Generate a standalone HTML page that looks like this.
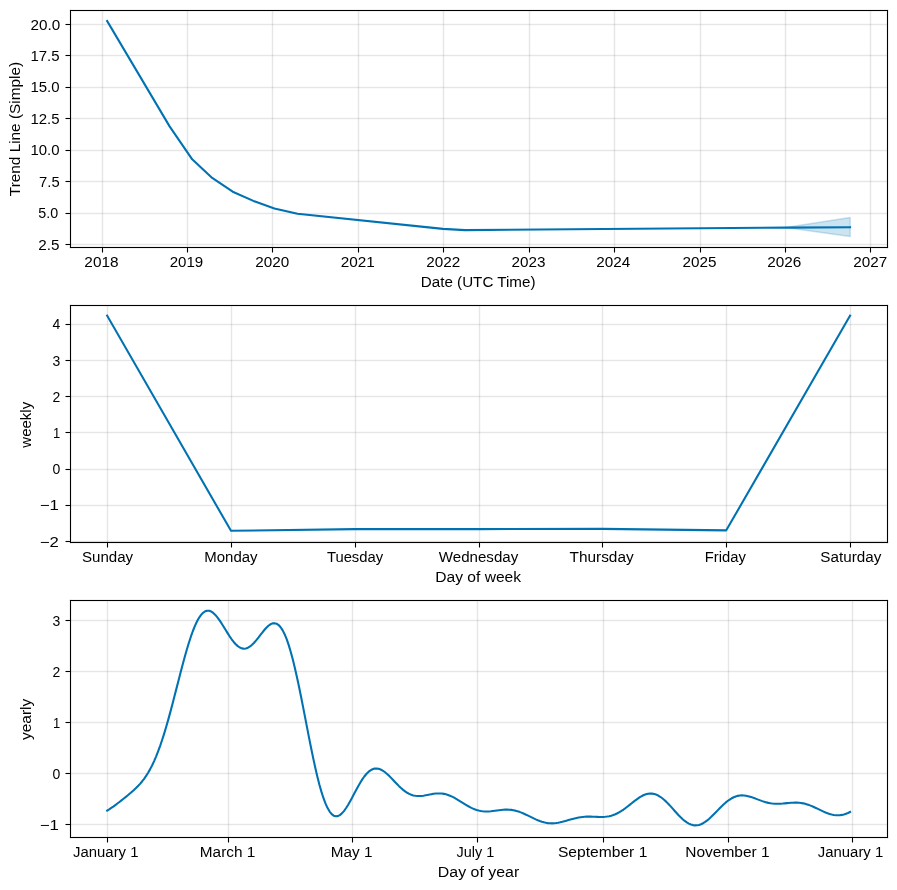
<!DOCTYPE html>
<html><head><meta charset="utf-8"><title>Prophet components</title><style>html,body{margin:0;padding:0;background:#fff;width:897px;height:890px;overflow:hidden}svg{display:block;will-change:transform}text{font-family:"Liberation Sans",sans-serif;fill:#000}</style></head><body>
<svg width="897" height="890" viewBox="0 0 897 890">
<rect width="897" height="890" fill="#fff"/>
<rect x="102" y="11" width="1" height="236" fill="#808080" fill-opacity="0.2"/>
<rect x="101" y="11" width="1" height="236" fill="#808080" fill-opacity="0.04"/>
<rect x="103" y="11" width="1" height="236" fill="#808080" fill-opacity="0.04"/>
<rect x="187" y="11" width="1" height="236" fill="#808080" fill-opacity="0.2"/>
<rect x="186" y="11" width="1" height="236" fill="#808080" fill-opacity="0.04"/>
<rect x="188" y="11" width="1" height="236" fill="#808080" fill-opacity="0.04"/>
<rect x="272" y="11" width="1" height="236" fill="#808080" fill-opacity="0.2"/>
<rect x="271" y="11" width="1" height="236" fill="#808080" fill-opacity="0.04"/>
<rect x="273" y="11" width="1" height="236" fill="#808080" fill-opacity="0.04"/>
<rect x="358" y="11" width="1" height="236" fill="#808080" fill-opacity="0.2"/>
<rect x="357" y="11" width="1" height="236" fill="#808080" fill-opacity="0.04"/>
<rect x="359" y="11" width="1" height="236" fill="#808080" fill-opacity="0.04"/>
<rect x="443" y="11" width="1" height="236" fill="#808080" fill-opacity="0.2"/>
<rect x="442" y="11" width="1" height="236" fill="#808080" fill-opacity="0.04"/>
<rect x="444" y="11" width="1" height="236" fill="#808080" fill-opacity="0.04"/>
<rect x="529" y="11" width="1" height="236" fill="#808080" fill-opacity="0.2"/>
<rect x="528" y="11" width="1" height="236" fill="#808080" fill-opacity="0.04"/>
<rect x="530" y="11" width="1" height="236" fill="#808080" fill-opacity="0.04"/>
<rect x="614" y="11" width="1" height="236" fill="#808080" fill-opacity="0.2"/>
<rect x="613" y="11" width="1" height="236" fill="#808080" fill-opacity="0.04"/>
<rect x="615" y="11" width="1" height="236" fill="#808080" fill-opacity="0.04"/>
<rect x="700" y="11" width="1" height="236" fill="#808080" fill-opacity="0.2"/>
<rect x="699" y="11" width="1" height="236" fill="#808080" fill-opacity="0.04"/>
<rect x="701" y="11" width="1" height="236" fill="#808080" fill-opacity="0.04"/>
<rect x="785" y="11" width="1" height="236" fill="#808080" fill-opacity="0.2"/>
<rect x="784" y="11" width="1" height="236" fill="#808080" fill-opacity="0.04"/>
<rect x="786" y="11" width="1" height="236" fill="#808080" fill-opacity="0.04"/>
<rect x="870" y="11" width="1" height="236" fill="#808080" fill-opacity="0.2"/>
<rect x="869" y="11" width="1" height="236" fill="#808080" fill-opacity="0.04"/>
<rect x="871" y="11" width="1" height="236" fill="#808080" fill-opacity="0.04"/>
<rect x="71" y="24" width="816" height="1" fill="#808080" fill-opacity="0.2"/>
<rect x="71" y="23" width="816" height="1" fill="#808080" fill-opacity="0.04"/>
<rect x="71" y="25" width="816" height="1" fill="#808080" fill-opacity="0.04"/>
<rect x="71" y="55" width="816" height="1" fill="#808080" fill-opacity="0.2"/>
<rect x="71" y="54" width="816" height="1" fill="#808080" fill-opacity="0.04"/>
<rect x="71" y="56" width="816" height="1" fill="#808080" fill-opacity="0.04"/>
<rect x="71" y="87" width="816" height="1" fill="#808080" fill-opacity="0.2"/>
<rect x="71" y="86" width="816" height="1" fill="#808080" fill-opacity="0.04"/>
<rect x="71" y="88" width="816" height="1" fill="#808080" fill-opacity="0.04"/>
<rect x="71" y="118" width="816" height="1" fill="#808080" fill-opacity="0.2"/>
<rect x="71" y="117" width="816" height="1" fill="#808080" fill-opacity="0.04"/>
<rect x="71" y="119" width="816" height="1" fill="#808080" fill-opacity="0.04"/>
<rect x="71" y="150" width="816" height="1" fill="#808080" fill-opacity="0.2"/>
<rect x="71" y="149" width="816" height="1" fill="#808080" fill-opacity="0.04"/>
<rect x="71" y="151" width="816" height="1" fill="#808080" fill-opacity="0.04"/>
<rect x="71" y="181" width="816" height="1" fill="#808080" fill-opacity="0.2"/>
<rect x="71" y="180" width="816" height="1" fill="#808080" fill-opacity="0.04"/>
<rect x="71" y="182" width="816" height="1" fill="#808080" fill-opacity="0.04"/>
<rect x="71" y="213" width="816" height="1" fill="#808080" fill-opacity="0.2"/>
<rect x="71" y="212" width="816" height="1" fill="#808080" fill-opacity="0.04"/>
<rect x="71" y="214" width="816" height="1" fill="#808080" fill-opacity="0.04"/>
<rect x="71" y="244" width="816" height="1" fill="#808080" fill-opacity="0.2"/>
<rect x="71" y="243" width="816" height="1" fill="#808080" fill-opacity="0.04"/>
<rect x="71" y="245" width="816" height="1" fill="#808080" fill-opacity="0.04"/>
<polygon points="785.40,227.55 850.20,217.55 850.20,236.45" fill="#0072B2" fill-opacity="0.2" stroke="#0072B2" stroke-opacity="0.2" stroke-width="1.39" stroke-linejoin="round"/>
<polyline points="107.17,21.00 169.60,126.40 192.20,159.30 212.20,177.90 232.70,191.70 253.40,200.90 274.40,208.40 297.50,213.80 443.00,228.90 465.00,230.10 785.50,227.60 850.07,227.30" fill="none" stroke="#0072B2" stroke-width="2.08" stroke-linecap="square" stroke-linejoin="round"/>
<rect x="70" y="10" width="818" height="1" fill="#000"/>
<rect x="71" y="9" width="816" height="1" fill="#000" fill-opacity="0.055"/>
<rect x="71" y="11" width="816" height="1" fill="#000" fill-opacity="0.055"/>
<rect x="70" y="247" width="818" height="1" fill="#000"/>
<rect x="71" y="246" width="816" height="1" fill="#000" fill-opacity="0.055"/>
<rect x="71" y="248" width="816" height="1" fill="#000" fill-opacity="0.055"/>
<rect x="70" y="11" width="1" height="236" fill="#000"/>
<rect x="69" y="12" width="1" height="234" fill="#000" fill-opacity="0.055"/>
<rect x="71" y="12" width="1" height="234" fill="#000" fill-opacity="0.055"/>
<rect x="887" y="11" width="1" height="236" fill="#000"/>
<rect x="886" y="12" width="1" height="234" fill="#000" fill-opacity="0.055"/>
<rect x="888" y="12" width="1" height="234" fill="#000" fill-opacity="0.055"/>
<rect x="69" y="10" width="1" height="1" fill="#e3e3e3"/>
<rect x="70" y="9" width="1" height="1" fill="#e3e3e3"/>
<rect x="69" y="9" width="1" height="1" fill="#fdfdfd"/>
<rect x="69" y="11" width="1" height="1" fill="#f0f0f0"/>
<rect x="71" y="9" width="1" height="1" fill="#f0f0f0"/>
<rect x="69" y="247" width="1" height="1" fill="#e3e3e3"/>
<rect x="70" y="248" width="1" height="1" fill="#e3e3e3"/>
<rect x="69" y="248" width="1" height="1" fill="#fdfdfd"/>
<rect x="69" y="246" width="1" height="1" fill="#f0f0f0"/>
<rect x="71" y="248" width="1" height="1" fill="#f0f0f0"/>
<rect x="888" y="10" width="1" height="1" fill="#e3e3e3"/>
<rect x="887" y="9" width="1" height="1" fill="#e3e3e3"/>
<rect x="888" y="9" width="1" height="1" fill="#fdfdfd"/>
<rect x="888" y="11" width="1" height="1" fill="#f0f0f0"/>
<rect x="886" y="9" width="1" height="1" fill="#f0f0f0"/>
<rect x="888" y="247" width="1" height="1" fill="#e3e3e3"/>
<rect x="887" y="248" width="1" height="1" fill="#e3e3e3"/>
<rect x="888" y="248" width="1" height="1" fill="#fdfdfd"/>
<rect x="888" y="246" width="1" height="1" fill="#f0f0f0"/>
<rect x="886" y="248" width="1" height="1" fill="#f0f0f0"/>
<rect x="102" y="248" width="1" height="4" fill="#000"/>
<rect x="101" y="249" width="1" height="3" fill="#f1f1f1"/>
<rect x="103" y="249" width="1" height="3" fill="#f1f1f1"/>
<rect x="102" y="252" width="1" height="1" fill="#7f7f7f"/>
<rect x="187" y="248" width="1" height="4" fill="#000"/>
<rect x="186" y="249" width="1" height="3" fill="#f1f1f1"/>
<rect x="188" y="249" width="1" height="3" fill="#f1f1f1"/>
<rect x="187" y="252" width="1" height="1" fill="#7f7f7f"/>
<rect x="272" y="248" width="1" height="4" fill="#000"/>
<rect x="271" y="249" width="1" height="3" fill="#f1f1f1"/>
<rect x="273" y="249" width="1" height="3" fill="#f1f1f1"/>
<rect x="272" y="252" width="1" height="1" fill="#7f7f7f"/>
<rect x="358" y="248" width="1" height="4" fill="#000"/>
<rect x="357" y="249" width="1" height="3" fill="#f1f1f1"/>
<rect x="359" y="249" width="1" height="3" fill="#f1f1f1"/>
<rect x="358" y="252" width="1" height="1" fill="#7f7f7f"/>
<rect x="443" y="248" width="1" height="4" fill="#000"/>
<rect x="442" y="249" width="1" height="3" fill="#f1f1f1"/>
<rect x="444" y="249" width="1" height="3" fill="#f1f1f1"/>
<rect x="443" y="252" width="1" height="1" fill="#7f7f7f"/>
<rect x="529" y="248" width="1" height="4" fill="#000"/>
<rect x="528" y="249" width="1" height="3" fill="#f1f1f1"/>
<rect x="530" y="249" width="1" height="3" fill="#f1f1f1"/>
<rect x="529" y="252" width="1" height="1" fill="#7f7f7f"/>
<rect x="614" y="248" width="1" height="4" fill="#000"/>
<rect x="613" y="249" width="1" height="3" fill="#f1f1f1"/>
<rect x="615" y="249" width="1" height="3" fill="#f1f1f1"/>
<rect x="614" y="252" width="1" height="1" fill="#7f7f7f"/>
<rect x="700" y="248" width="1" height="4" fill="#000"/>
<rect x="699" y="249" width="1" height="3" fill="#f1f1f1"/>
<rect x="701" y="249" width="1" height="3" fill="#f1f1f1"/>
<rect x="700" y="252" width="1" height="1" fill="#7f7f7f"/>
<rect x="785" y="248" width="1" height="4" fill="#000"/>
<rect x="784" y="249" width="1" height="3" fill="#f1f1f1"/>
<rect x="786" y="249" width="1" height="3" fill="#f1f1f1"/>
<rect x="785" y="252" width="1" height="1" fill="#7f7f7f"/>
<rect x="870" y="248" width="1" height="4" fill="#000"/>
<rect x="869" y="249" width="1" height="3" fill="#f1f1f1"/>
<rect x="871" y="249" width="1" height="3" fill="#f1f1f1"/>
<rect x="870" y="252" width="1" height="1" fill="#7f7f7f"/>
<rect x="66" y="24" width="4" height="1" fill="#000"/>
<rect x="66" y="23" width="3" height="1" fill="#f1f1f1"/>
<rect x="66" y="25" width="3" height="1" fill="#f1f1f1"/>
<rect x="65" y="24" width="1" height="1" fill="#7f7f7f"/>
<rect x="66" y="55" width="4" height="1" fill="#000"/>
<rect x="66" y="54" width="3" height="1" fill="#f1f1f1"/>
<rect x="66" y="56" width="3" height="1" fill="#f1f1f1"/>
<rect x="65" y="55" width="1" height="1" fill="#7f7f7f"/>
<rect x="66" y="87" width="4" height="1" fill="#000"/>
<rect x="66" y="86" width="3" height="1" fill="#f1f1f1"/>
<rect x="66" y="88" width="3" height="1" fill="#f1f1f1"/>
<rect x="65" y="87" width="1" height="1" fill="#7f7f7f"/>
<rect x="66" y="118" width="4" height="1" fill="#000"/>
<rect x="66" y="117" width="3" height="1" fill="#f1f1f1"/>
<rect x="66" y="119" width="3" height="1" fill="#f1f1f1"/>
<rect x="65" y="118" width="1" height="1" fill="#7f7f7f"/>
<rect x="66" y="150" width="4" height="1" fill="#000"/>
<rect x="66" y="149" width="3" height="1" fill="#f1f1f1"/>
<rect x="66" y="151" width="3" height="1" fill="#f1f1f1"/>
<rect x="65" y="150" width="1" height="1" fill="#7f7f7f"/>
<rect x="66" y="181" width="4" height="1" fill="#000"/>
<rect x="66" y="180" width="3" height="1" fill="#f1f1f1"/>
<rect x="66" y="182" width="3" height="1" fill="#f1f1f1"/>
<rect x="65" y="181" width="1" height="1" fill="#7f7f7f"/>
<rect x="66" y="213" width="4" height="1" fill="#000"/>
<rect x="66" y="212" width="3" height="1" fill="#f1f1f1"/>
<rect x="66" y="214" width="3" height="1" fill="#f1f1f1"/>
<rect x="65" y="213" width="1" height="1" fill="#7f7f7f"/>
<rect x="66" y="244" width="4" height="1" fill="#000"/>
<rect x="66" y="243" width="3" height="1" fill="#f1f1f1"/>
<rect x="66" y="245" width="3" height="1" fill="#f1f1f1"/>
<rect x="65" y="244" width="1" height="1" fill="#7f7f7f"/>
<rect x="107" y="306" width="1" height="236" fill="#808080" fill-opacity="0.2"/>
<rect x="106" y="306" width="1" height="236" fill="#808080" fill-opacity="0.04"/>
<rect x="108" y="306" width="1" height="236" fill="#808080" fill-opacity="0.04"/>
<rect x="231" y="306" width="1" height="236" fill="#808080" fill-opacity="0.2"/>
<rect x="230" y="306" width="1" height="236" fill="#808080" fill-opacity="0.04"/>
<rect x="232" y="306" width="1" height="236" fill="#808080" fill-opacity="0.04"/>
<rect x="355" y="306" width="1" height="236" fill="#808080" fill-opacity="0.2"/>
<rect x="354" y="306" width="1" height="236" fill="#808080" fill-opacity="0.04"/>
<rect x="356" y="306" width="1" height="236" fill="#808080" fill-opacity="0.04"/>
<rect x="479" y="306" width="1" height="236" fill="#808080" fill-opacity="0.2"/>
<rect x="478" y="306" width="1" height="236" fill="#808080" fill-opacity="0.04"/>
<rect x="480" y="306" width="1" height="236" fill="#808080" fill-opacity="0.04"/>
<rect x="602" y="306" width="1" height="236" fill="#808080" fill-opacity="0.2"/>
<rect x="601" y="306" width="1" height="236" fill="#808080" fill-opacity="0.04"/>
<rect x="603" y="306" width="1" height="236" fill="#808080" fill-opacity="0.04"/>
<rect x="726" y="306" width="1" height="236" fill="#808080" fill-opacity="0.2"/>
<rect x="725" y="306" width="1" height="236" fill="#808080" fill-opacity="0.04"/>
<rect x="727" y="306" width="1" height="236" fill="#808080" fill-opacity="0.04"/>
<rect x="850" y="306" width="1" height="236" fill="#808080" fill-opacity="0.2"/>
<rect x="849" y="306" width="1" height="236" fill="#808080" fill-opacity="0.04"/>
<rect x="851" y="306" width="1" height="236" fill="#808080" fill-opacity="0.04"/>
<rect x="71" y="324" width="816" height="1" fill="#808080" fill-opacity="0.2"/>
<rect x="71" y="323" width="816" height="1" fill="#808080" fill-opacity="0.04"/>
<rect x="71" y="325" width="816" height="1" fill="#808080" fill-opacity="0.04"/>
<rect x="71" y="360" width="816" height="1" fill="#808080" fill-opacity="0.2"/>
<rect x="71" y="359" width="816" height="1" fill="#808080" fill-opacity="0.04"/>
<rect x="71" y="361" width="816" height="1" fill="#808080" fill-opacity="0.04"/>
<rect x="71" y="396" width="816" height="1" fill="#808080" fill-opacity="0.2"/>
<rect x="71" y="395" width="816" height="1" fill="#808080" fill-opacity="0.04"/>
<rect x="71" y="397" width="816" height="1" fill="#808080" fill-opacity="0.04"/>
<rect x="71" y="432" width="816" height="1" fill="#808080" fill-opacity="0.2"/>
<rect x="71" y="431" width="816" height="1" fill="#808080" fill-opacity="0.04"/>
<rect x="71" y="433" width="816" height="1" fill="#808080" fill-opacity="0.04"/>
<rect x="71" y="469" width="816" height="1" fill="#808080" fill-opacity="0.2"/>
<rect x="71" y="468" width="816" height="1" fill="#808080" fill-opacity="0.04"/>
<rect x="71" y="470" width="816" height="1" fill="#808080" fill-opacity="0.04"/>
<rect x="71" y="505" width="816" height="1" fill="#808080" fill-opacity="0.2"/>
<rect x="71" y="504" width="816" height="1" fill="#808080" fill-opacity="0.04"/>
<rect x="71" y="506" width="816" height="1" fill="#808080" fill-opacity="0.04"/>
<rect x="71" y="541" width="816" height="1" fill="#808080" fill-opacity="0.2"/>
<rect x="71" y="540" width="816" height="1" fill="#808080" fill-opacity="0.04"/>
<rect x="71" y="542" width="816" height="1" fill="#808080" fill-opacity="0.04"/>
<polyline points="107.17,315.75 230.99,530.80 354.80,529.15 478.62,529.15 602.43,528.85 726.25,530.35 850.06,315.75" fill="none" stroke="#0072B2" stroke-width="2.08" stroke-linecap="square" stroke-linejoin="round"/>
<rect x="70" y="305" width="818" height="1" fill="#000"/>
<rect x="71" y="304" width="816" height="1" fill="#000" fill-opacity="0.055"/>
<rect x="71" y="306" width="816" height="1" fill="#000" fill-opacity="0.055"/>
<rect x="70" y="542" width="818" height="1" fill="#000"/>
<rect x="71" y="541" width="816" height="1" fill="#000" fill-opacity="0.055"/>
<rect x="71" y="543" width="816" height="1" fill="#000" fill-opacity="0.055"/>
<rect x="70" y="306" width="1" height="236" fill="#000"/>
<rect x="69" y="307" width="1" height="234" fill="#000" fill-opacity="0.055"/>
<rect x="71" y="307" width="1" height="234" fill="#000" fill-opacity="0.055"/>
<rect x="887" y="306" width="1" height="236" fill="#000"/>
<rect x="886" y="307" width="1" height="234" fill="#000" fill-opacity="0.055"/>
<rect x="888" y="307" width="1" height="234" fill="#000" fill-opacity="0.055"/>
<rect x="69" y="305" width="1" height="1" fill="#e3e3e3"/>
<rect x="70" y="304" width="1" height="1" fill="#e3e3e3"/>
<rect x="69" y="304" width="1" height="1" fill="#fdfdfd"/>
<rect x="69" y="306" width="1" height="1" fill="#f0f0f0"/>
<rect x="71" y="304" width="1" height="1" fill="#f0f0f0"/>
<rect x="69" y="542" width="1" height="1" fill="#e3e3e3"/>
<rect x="70" y="543" width="1" height="1" fill="#e3e3e3"/>
<rect x="69" y="543" width="1" height="1" fill="#fdfdfd"/>
<rect x="69" y="541" width="1" height="1" fill="#f0f0f0"/>
<rect x="71" y="543" width="1" height="1" fill="#f0f0f0"/>
<rect x="888" y="305" width="1" height="1" fill="#e3e3e3"/>
<rect x="887" y="304" width="1" height="1" fill="#e3e3e3"/>
<rect x="888" y="304" width="1" height="1" fill="#fdfdfd"/>
<rect x="888" y="306" width="1" height="1" fill="#f0f0f0"/>
<rect x="886" y="304" width="1" height="1" fill="#f0f0f0"/>
<rect x="888" y="542" width="1" height="1" fill="#e3e3e3"/>
<rect x="887" y="543" width="1" height="1" fill="#e3e3e3"/>
<rect x="888" y="543" width="1" height="1" fill="#fdfdfd"/>
<rect x="888" y="541" width="1" height="1" fill="#f0f0f0"/>
<rect x="886" y="543" width="1" height="1" fill="#f0f0f0"/>
<rect x="107" y="543" width="1" height="4" fill="#000"/>
<rect x="106" y="544" width="1" height="3" fill="#f1f1f1"/>
<rect x="108" y="544" width="1" height="3" fill="#f1f1f1"/>
<rect x="107" y="547" width="1" height="1" fill="#7f7f7f"/>
<rect x="231" y="543" width="1" height="4" fill="#000"/>
<rect x="230" y="544" width="1" height="3" fill="#f1f1f1"/>
<rect x="232" y="544" width="1" height="3" fill="#f1f1f1"/>
<rect x="231" y="547" width="1" height="1" fill="#7f7f7f"/>
<rect x="355" y="543" width="1" height="4" fill="#000"/>
<rect x="354" y="544" width="1" height="3" fill="#f1f1f1"/>
<rect x="356" y="544" width="1" height="3" fill="#f1f1f1"/>
<rect x="355" y="547" width="1" height="1" fill="#7f7f7f"/>
<rect x="479" y="543" width="1" height="4" fill="#000"/>
<rect x="478" y="544" width="1" height="3" fill="#f1f1f1"/>
<rect x="480" y="544" width="1" height="3" fill="#f1f1f1"/>
<rect x="479" y="547" width="1" height="1" fill="#7f7f7f"/>
<rect x="602" y="543" width="1" height="4" fill="#000"/>
<rect x="601" y="544" width="1" height="3" fill="#f1f1f1"/>
<rect x="603" y="544" width="1" height="3" fill="#f1f1f1"/>
<rect x="602" y="547" width="1" height="1" fill="#7f7f7f"/>
<rect x="726" y="543" width="1" height="4" fill="#000"/>
<rect x="725" y="544" width="1" height="3" fill="#f1f1f1"/>
<rect x="727" y="544" width="1" height="3" fill="#f1f1f1"/>
<rect x="726" y="547" width="1" height="1" fill="#7f7f7f"/>
<rect x="850" y="543" width="1" height="4" fill="#000"/>
<rect x="849" y="544" width="1" height="3" fill="#f1f1f1"/>
<rect x="851" y="544" width="1" height="3" fill="#f1f1f1"/>
<rect x="850" y="547" width="1" height="1" fill="#7f7f7f"/>
<rect x="66" y="324" width="4" height="1" fill="#000"/>
<rect x="66" y="323" width="3" height="1" fill="#f1f1f1"/>
<rect x="66" y="325" width="3" height="1" fill="#f1f1f1"/>
<rect x="65" y="324" width="1" height="1" fill="#7f7f7f"/>
<rect x="66" y="360" width="4" height="1" fill="#000"/>
<rect x="66" y="359" width="3" height="1" fill="#f1f1f1"/>
<rect x="66" y="361" width="3" height="1" fill="#f1f1f1"/>
<rect x="65" y="360" width="1" height="1" fill="#7f7f7f"/>
<rect x="66" y="396" width="4" height="1" fill="#000"/>
<rect x="66" y="395" width="3" height="1" fill="#f1f1f1"/>
<rect x="66" y="397" width="3" height="1" fill="#f1f1f1"/>
<rect x="65" y="396" width="1" height="1" fill="#7f7f7f"/>
<rect x="66" y="432" width="4" height="1" fill="#000"/>
<rect x="66" y="431" width="3" height="1" fill="#f1f1f1"/>
<rect x="66" y="433" width="3" height="1" fill="#f1f1f1"/>
<rect x="65" y="432" width="1" height="1" fill="#7f7f7f"/>
<rect x="66" y="469" width="4" height="1" fill="#000"/>
<rect x="66" y="468" width="3" height="1" fill="#f1f1f1"/>
<rect x="66" y="470" width="3" height="1" fill="#f1f1f1"/>
<rect x="65" y="469" width="1" height="1" fill="#7f7f7f"/>
<rect x="66" y="505" width="4" height="1" fill="#000"/>
<rect x="66" y="504" width="3" height="1" fill="#f1f1f1"/>
<rect x="66" y="506" width="3" height="1" fill="#f1f1f1"/>
<rect x="65" y="505" width="1" height="1" fill="#7f7f7f"/>
<rect x="66" y="541" width="4" height="1" fill="#000"/>
<rect x="66" y="540" width="3" height="1" fill="#f1f1f1"/>
<rect x="66" y="542" width="3" height="1" fill="#f1f1f1"/>
<rect x="65" y="541" width="1" height="1" fill="#7f7f7f"/>
<rect x="107" y="601" width="1" height="236" fill="#808080" fill-opacity="0.2"/>
<rect x="106" y="601" width="1" height="236" fill="#808080" fill-opacity="0.04"/>
<rect x="108" y="601" width="1" height="236" fill="#808080" fill-opacity="0.04"/>
<rect x="228" y="601" width="1" height="236" fill="#808080" fill-opacity="0.2"/>
<rect x="227" y="601" width="1" height="236" fill="#808080" fill-opacity="0.04"/>
<rect x="229" y="601" width="1" height="236" fill="#808080" fill-opacity="0.04"/>
<rect x="352" y="601" width="1" height="236" fill="#808080" fill-opacity="0.2"/>
<rect x="351" y="601" width="1" height="236" fill="#808080" fill-opacity="0.04"/>
<rect x="353" y="601" width="1" height="236" fill="#808080" fill-opacity="0.04"/>
<rect x="477" y="601" width="1" height="236" fill="#808080" fill-opacity="0.2"/>
<rect x="476" y="601" width="1" height="236" fill="#808080" fill-opacity="0.04"/>
<rect x="478" y="601" width="1" height="236" fill="#808080" fill-opacity="0.04"/>
<rect x="603" y="601" width="1" height="236" fill="#808080" fill-opacity="0.2"/>
<rect x="602" y="601" width="1" height="236" fill="#808080" fill-opacity="0.04"/>
<rect x="604" y="601" width="1" height="236" fill="#808080" fill-opacity="0.04"/>
<rect x="728" y="601" width="1" height="236" fill="#808080" fill-opacity="0.2"/>
<rect x="727" y="601" width="1" height="236" fill="#808080" fill-opacity="0.04"/>
<rect x="729" y="601" width="1" height="236" fill="#808080" fill-opacity="0.04"/>
<rect x="852" y="601" width="1" height="236" fill="#808080" fill-opacity="0.2"/>
<rect x="851" y="601" width="1" height="236" fill="#808080" fill-opacity="0.04"/>
<rect x="853" y="601" width="1" height="236" fill="#808080" fill-opacity="0.04"/>
<rect x="71" y="620" width="816" height="1" fill="#808080" fill-opacity="0.2"/>
<rect x="71" y="619" width="816" height="1" fill="#808080" fill-opacity="0.04"/>
<rect x="71" y="621" width="816" height="1" fill="#808080" fill-opacity="0.04"/>
<rect x="71" y="671" width="816" height="1" fill="#808080" fill-opacity="0.2"/>
<rect x="71" y="670" width="816" height="1" fill="#808080" fill-opacity="0.04"/>
<rect x="71" y="672" width="816" height="1" fill="#808080" fill-opacity="0.04"/>
<rect x="71" y="722" width="816" height="1" fill="#808080" fill-opacity="0.2"/>
<rect x="71" y="721" width="816" height="1" fill="#808080" fill-opacity="0.04"/>
<rect x="71" y="723" width="816" height="1" fill="#808080" fill-opacity="0.04"/>
<rect x="71" y="773" width="816" height="1" fill="#808080" fill-opacity="0.2"/>
<rect x="71" y="772" width="816" height="1" fill="#808080" fill-opacity="0.04"/>
<rect x="71" y="774" width="816" height="1" fill="#808080" fill-opacity="0.04"/>
<rect x="71" y="824" width="816" height="1" fill="#808080" fill-opacity="0.2"/>
<rect x="71" y="823" width="816" height="1" fill="#808080" fill-opacity="0.04"/>
<rect x="71" y="825" width="816" height="1" fill="#808080" fill-opacity="0.04"/>
<polyline points="107.17,810.58 109.21,809.33 111.25,807.97 113.29,806.55 115.33,805.06 117.37,803.52 119.42,801.96 121.46,800.37 123.50,798.76 125.54,797.14 127.58,795.49 129.62,793.80 131.66,792.06 133.70,790.26 135.74,788.35 137.78,786.31 139.82,784.12 141.87,781.72 143.91,779.08 145.95,776.18 147.99,772.96 150.03,769.39 152.07,765.46 154.11,761.12 156.15,756.36 158.19,751.18 160.23,745.57 162.27,739.53 164.32,733.09 166.36,726.26 168.40,719.10 170.44,711.64 172.48,703.95 174.52,696.09 176.56,688.13 178.60,680.15 180.64,672.23 182.68,664.47 184.72,656.96 186.77,649.77 188.81,642.99 190.85,636.71 192.89,631.00 194.93,625.91 196.97,621.51 199.01,617.83 201.05,614.91 203.09,612.75 205.13,611.36 207.17,610.73 209.22,610.82 211.26,611.58 213.30,612.97 215.34,614.91 217.38,617.31 219.42,620.10 221.46,623.18 223.50,626.43 225.54,629.77 227.58,633.09 229.62,636.29 231.67,639.27 233.71,641.95 235.75,644.26 237.79,646.13 239.83,647.51 241.87,648.37 243.91,648.69 245.95,648.46 247.99,647.71 250.03,646.47 252.07,644.79 254.12,642.74 256.16,640.39 258.20,637.83 260.24,635.18 262.28,632.53 264.32,630.00 266.36,627.71 268.40,625.77 270.44,624.30 272.48,623.39 274.52,623.16 276.57,623.68 278.61,625.02 280.65,627.24 282.69,630.38 284.73,634.45 286.77,639.46 288.81,645.38 290.85,652.19 292.89,659.82 294.93,668.19 296.97,677.22 299.02,686.80 301.06,696.82 303.10,707.14 305.14,717.64 307.18,728.17 309.22,738.60 311.26,748.79 313.30,758.61 315.34,767.94 317.38,776.66 319.42,784.67 321.47,791.88 323.51,798.22 325.55,803.64 327.59,808.10 329.63,811.60 331.67,814.11 333.71,815.68 335.75,816.33 337.79,816.13 339.83,815.13 341.87,813.42 343.92,811.09 345.96,808.24 348.00,804.97 350.04,801.40 352.08,797.64 354.12,793.78 356.16,789.94 358.20,786.21 360.24,782.68 362.28,779.42 364.32,776.52 366.37,774.01 368.41,771.94 370.45,770.35 372.49,769.24 374.53,768.61 376.57,768.46 378.61,768.76 380.65,769.48 382.69,770.58 384.73,772.00 386.77,773.69 388.82,775.59 390.86,777.64 392.90,779.77 394.94,781.94 396.98,784.08 399.02,786.14 401.06,788.07 403.10,789.84 405.14,791.41 407.18,792.77 409.22,793.89 411.27,794.77 413.31,795.42 415.35,795.84 417.39,796.05 419.43,796.07 421.47,795.94 423.51,795.69 425.55,795.34 427.59,794.95 429.63,794.54 431.67,794.15 433.72,793.81 435.76,793.56 437.80,793.42 439.84,793.42 441.88,793.56 443.92,793.86 445.96,794.32 448.00,794.94 450.04,795.72 452.08,796.63 454.12,797.67 456.17,798.81 458.21,800.02 460.25,801.28 462.29,802.57 464.33,803.84 466.37,805.08 468.41,806.26 470.45,807.35 472.49,808.34 474.53,809.21 476.57,809.94 478.62,810.53 480.66,810.97 482.70,811.27 484.74,811.44 486.78,811.49 488.82,811.42 490.86,811.27 492.90,811.05 494.94,810.79 496.98,810.50 499.02,810.23 501.07,809.98 503.11,809.78 505.15,809.66 507.19,809.63 509.23,809.70 511.27,809.89 513.31,810.20 515.35,810.64 517.39,811.19 519.43,811.86 521.47,812.64 523.52,813.50 525.56,814.43 527.60,815.41 529.64,816.42 531.68,817.44 533.72,818.44 535.76,819.39 537.80,820.28 539.84,821.08 541.88,821.78 543.92,822.36 545.97,822.82 548.01,823.14 550.05,823.32 552.09,823.36 554.13,823.28 556.17,823.06 558.21,822.74 560.25,822.33 562.29,821.83 564.33,821.28 566.37,820.70 568.42,820.09 570.46,819.50 572.50,818.92 574.54,818.39 576.58,817.91 578.62,817.50 580.66,817.17 582.70,816.92 584.74,816.74 586.78,816.65 588.82,816.61 590.87,816.64 592.91,816.70 594.95,816.79 596.99,816.88 599.03,816.94 601.07,816.97 603.11,816.93 605.15,816.80 607.19,816.56 609.23,816.19 611.27,815.69 613.32,815.04 615.36,814.23 617.40,813.27 619.44,812.16 621.48,810.90 623.52,809.52 625.56,808.04 627.60,806.47 629.64,804.86 631.68,803.22 633.72,801.60 635.77,800.04 637.81,798.56 639.85,797.22 641.89,796.03 643.93,795.05 645.97,794.29 648.01,793.79 650.05,793.56 652.09,793.61 654.13,793.96 656.17,794.61 658.22,795.55 660.26,796.77 662.30,798.25 664.34,799.96 666.38,801.87 668.42,803.95 670.46,806.14 672.50,808.41 674.54,810.71 676.58,812.98 678.62,815.19 680.67,817.28 682.71,819.21 684.75,820.93 686.79,822.41 688.83,823.62 690.87,824.53 692.91,825.12 694.95,825.39 696.99,825.32 699.03,824.93 701.07,824.23 703.12,823.23 705.16,821.95 707.20,820.44 709.24,818.72 711.28,816.83 713.32,814.83 715.36,812.74 717.40,810.62 719.44,808.52 721.48,806.47 723.52,804.51 725.57,802.68 727.61,801.02 729.65,799.55 731.69,798.28 733.73,797.24 735.77,796.43 737.81,795.86 739.85,795.52 741.89,795.39 743.93,795.47 745.97,795.73 748.02,796.15 750.06,796.70 752.10,797.36 754.14,798.09 756.18,798.86 758.22,799.64 760.26,800.40 762.30,801.13 764.34,801.79 766.38,802.38 768.42,802.87 770.47,803.25 772.51,803.54 774.55,803.71 776.59,803.79 778.63,803.78 780.67,803.69 782.71,803.55 784.75,803.36 786.79,803.16 788.83,802.96 790.87,802.79 792.92,802.67 794.96,802.61 797.00,802.64 799.04,802.76 801.08,803.00 803.12,803.35 805.16,803.82 807.20,804.40 809.24,805.10 811.28,805.89 813.32,806.76 815.37,807.70 817.41,808.68 819.45,809.67 821.49,810.66 823.53,811.61 825.57,812.51 827.61,813.31 829.65,814.01 831.69,814.57 833.73,814.99 835.77,815.23 837.82,815.31 839.86,815.20 841.90,814.90 843.94,814.43 845.98,813.78 848.02,812.96 850.06,811.99" fill="none" stroke="#0072B2" stroke-width="2.08" stroke-linecap="square" stroke-linejoin="round"/>
<rect x="70" y="600" width="818" height="1" fill="#000"/>
<rect x="71" y="599" width="816" height="1" fill="#000" fill-opacity="0.055"/>
<rect x="71" y="601" width="816" height="1" fill="#000" fill-opacity="0.055"/>
<rect x="70" y="837" width="818" height="1" fill="#000"/>
<rect x="71" y="836" width="816" height="1" fill="#000" fill-opacity="0.055"/>
<rect x="71" y="838" width="816" height="1" fill="#000" fill-opacity="0.055"/>
<rect x="70" y="601" width="1" height="236" fill="#000"/>
<rect x="69" y="602" width="1" height="234" fill="#000" fill-opacity="0.055"/>
<rect x="71" y="602" width="1" height="234" fill="#000" fill-opacity="0.055"/>
<rect x="887" y="601" width="1" height="236" fill="#000"/>
<rect x="886" y="602" width="1" height="234" fill="#000" fill-opacity="0.055"/>
<rect x="888" y="602" width="1" height="234" fill="#000" fill-opacity="0.055"/>
<rect x="69" y="600" width="1" height="1" fill="#e3e3e3"/>
<rect x="70" y="599" width="1" height="1" fill="#e3e3e3"/>
<rect x="69" y="599" width="1" height="1" fill="#fdfdfd"/>
<rect x="69" y="601" width="1" height="1" fill="#f0f0f0"/>
<rect x="71" y="599" width="1" height="1" fill="#f0f0f0"/>
<rect x="69" y="837" width="1" height="1" fill="#e3e3e3"/>
<rect x="70" y="838" width="1" height="1" fill="#e3e3e3"/>
<rect x="69" y="838" width="1" height="1" fill="#fdfdfd"/>
<rect x="69" y="836" width="1" height="1" fill="#f0f0f0"/>
<rect x="71" y="838" width="1" height="1" fill="#f0f0f0"/>
<rect x="888" y="600" width="1" height="1" fill="#e3e3e3"/>
<rect x="887" y="599" width="1" height="1" fill="#e3e3e3"/>
<rect x="888" y="599" width="1" height="1" fill="#fdfdfd"/>
<rect x="888" y="601" width="1" height="1" fill="#f0f0f0"/>
<rect x="886" y="599" width="1" height="1" fill="#f0f0f0"/>
<rect x="888" y="837" width="1" height="1" fill="#e3e3e3"/>
<rect x="887" y="838" width="1" height="1" fill="#e3e3e3"/>
<rect x="888" y="838" width="1" height="1" fill="#fdfdfd"/>
<rect x="888" y="836" width="1" height="1" fill="#f0f0f0"/>
<rect x="886" y="838" width="1" height="1" fill="#f0f0f0"/>
<rect x="107" y="838" width="1" height="4" fill="#000"/>
<rect x="106" y="839" width="1" height="3" fill="#f1f1f1"/>
<rect x="108" y="839" width="1" height="3" fill="#f1f1f1"/>
<rect x="107" y="842" width="1" height="1" fill="#7f7f7f"/>
<rect x="228" y="838" width="1" height="4" fill="#000"/>
<rect x="227" y="839" width="1" height="3" fill="#f1f1f1"/>
<rect x="229" y="839" width="1" height="3" fill="#f1f1f1"/>
<rect x="228" y="842" width="1" height="1" fill="#7f7f7f"/>
<rect x="352" y="838" width="1" height="4" fill="#000"/>
<rect x="351" y="839" width="1" height="3" fill="#f1f1f1"/>
<rect x="353" y="839" width="1" height="3" fill="#f1f1f1"/>
<rect x="352" y="842" width="1" height="1" fill="#7f7f7f"/>
<rect x="477" y="838" width="1" height="4" fill="#000"/>
<rect x="476" y="839" width="1" height="3" fill="#f1f1f1"/>
<rect x="478" y="839" width="1" height="3" fill="#f1f1f1"/>
<rect x="477" y="842" width="1" height="1" fill="#7f7f7f"/>
<rect x="603" y="838" width="1" height="4" fill="#000"/>
<rect x="602" y="839" width="1" height="3" fill="#f1f1f1"/>
<rect x="604" y="839" width="1" height="3" fill="#f1f1f1"/>
<rect x="603" y="842" width="1" height="1" fill="#7f7f7f"/>
<rect x="728" y="838" width="1" height="4" fill="#000"/>
<rect x="727" y="839" width="1" height="3" fill="#f1f1f1"/>
<rect x="729" y="839" width="1" height="3" fill="#f1f1f1"/>
<rect x="728" y="842" width="1" height="1" fill="#7f7f7f"/>
<rect x="852" y="838" width="1" height="4" fill="#000"/>
<rect x="851" y="839" width="1" height="3" fill="#f1f1f1"/>
<rect x="853" y="839" width="1" height="3" fill="#f1f1f1"/>
<rect x="852" y="842" width="1" height="1" fill="#7f7f7f"/>
<rect x="66" y="620" width="4" height="1" fill="#000"/>
<rect x="66" y="619" width="3" height="1" fill="#f1f1f1"/>
<rect x="66" y="621" width="3" height="1" fill="#f1f1f1"/>
<rect x="65" y="620" width="1" height="1" fill="#7f7f7f"/>
<rect x="66" y="671" width="4" height="1" fill="#000"/>
<rect x="66" y="670" width="3" height="1" fill="#f1f1f1"/>
<rect x="66" y="672" width="3" height="1" fill="#f1f1f1"/>
<rect x="65" y="671" width="1" height="1" fill="#7f7f7f"/>
<rect x="66" y="722" width="4" height="1" fill="#000"/>
<rect x="66" y="721" width="3" height="1" fill="#f1f1f1"/>
<rect x="66" y="723" width="3" height="1" fill="#f1f1f1"/>
<rect x="65" y="722" width="1" height="1" fill="#7f7f7f"/>
<rect x="66" y="773" width="4" height="1" fill="#000"/>
<rect x="66" y="772" width="3" height="1" fill="#f1f1f1"/>
<rect x="66" y="774" width="3" height="1" fill="#f1f1f1"/>
<rect x="65" y="773" width="1" height="1" fill="#7f7f7f"/>
<rect x="66" y="824" width="4" height="1" fill="#000"/>
<rect x="66" y="823" width="3" height="1" fill="#f1f1f1"/>
<rect x="66" y="825" width="3" height="1" fill="#f1f1f1"/>
<rect x="65" y="824" width="1" height="1" fill="#7f7f7f"/>
<text x="84.39" y="267.00" font-size="13.89" textLength="34.19" lengthAdjust="spacingAndGlyphs">2018</text>
<text x="169.76" y="267.00" font-size="13.89" textLength="33.49" lengthAdjust="spacingAndGlyphs">2019</text>
<text x="255.26" y="267.00" font-size="13.89" textLength="33.95" lengthAdjust="spacingAndGlyphs">2020</text>
<text x="340.80" y="267.00" font-size="13.89" textLength="34.07" lengthAdjust="spacingAndGlyphs">2021</text>
<text x="426.24" y="267.00" font-size="13.89" textLength="33.95" lengthAdjust="spacingAndGlyphs">2022</text>
<text x="511.61" y="267.00" font-size="13.89" textLength="33.95" lengthAdjust="spacingAndGlyphs">2023</text>
<text x="596.28" y="267.00" font-size="13.89" textLength="33.95" lengthAdjust="spacingAndGlyphs">2024</text>
<text x="682.59" y="267.00" font-size="13.89" textLength="33.95" lengthAdjust="spacingAndGlyphs">2025</text>
<text x="767.20" y="267.00" font-size="13.89" textLength="34.07" lengthAdjust="spacingAndGlyphs">2026</text>
<text x="853.33" y="267.00" font-size="13.89" textLength="33.95" lengthAdjust="spacingAndGlyphs">2027</text>
<text x="59.61" y="249.76" text-anchor="end" font-size="13.89" textLength="21.22" lengthAdjust="spacingAndGlyphs">2.5</text>
<text x="58.21" y="217.63" text-anchor="end" font-size="13.89" textLength="19.82" lengthAdjust="spacingAndGlyphs">5.0</text>
<text x="59.61" y="186.90" text-anchor="end" font-size="13.89" textLength="20.52" lengthAdjust="spacingAndGlyphs">7.5</text>
<text x="59.61" y="154.78" text-anchor="end" font-size="13.89" textLength="29.13" lengthAdjust="spacingAndGlyphs">10.0</text>
<text x="59.61" y="124.05" text-anchor="end" font-size="13.89" textLength="29.13" lengthAdjust="spacingAndGlyphs">12.5</text>
<text x="59.61" y="91.92" text-anchor="end" font-size="13.89" textLength="29.13" lengthAdjust="spacingAndGlyphs">15.0</text>
<text x="59.61" y="61.19" text-anchor="end" font-size="13.89" textLength="29.13" lengthAdjust="spacingAndGlyphs">17.5</text>
<text x="60.31" y="29.76" text-anchor="end" font-size="13.89" textLength="29.71" lengthAdjust="spacingAndGlyphs">20.0</text>
<text x="420.82" y="286.56" font-size="13.89" textLength="114.69" lengthAdjust="spacingAndGlyphs">Date (UTC Time)</text>
<text transform="translate(19.86,129.06) rotate(-90)" text-anchor="middle" font-size="13.89" textLength="134.18" lengthAdjust="spacingAndGlyphs">Trend Line (Simple)</text>
<text x="81.94" y="562.00" font-size="13.89" textLength="51.14" lengthAdjust="spacingAndGlyphs">Sunday</text>
<text x="204.27" y="562.00" font-size="13.89" textLength="53.35" lengthAdjust="spacingAndGlyphs">Monday</text>
<text x="326.93" y="562.00" font-size="13.89" textLength="56.21" lengthAdjust="spacingAndGlyphs">Tuesday</text>
<text x="438.78" y="562.00" font-size="13.89" textLength="79.48" lengthAdjust="spacingAndGlyphs">Wednesday</text>
<text x="569.56" y="562.00" font-size="13.89" textLength="64.09" lengthAdjust="spacingAndGlyphs">Thursday</text>
<text x="704.84" y="562.00" font-size="13.89" textLength="41.10" lengthAdjust="spacingAndGlyphs">Friday</text>
<text x="820.38" y="562.00" font-size="13.89" textLength="60.99" lengthAdjust="spacingAndGlyphs">Saturday</text>
<text x="58.91" y="546.76" text-anchor="end" font-size="13.89" textLength="19.06" lengthAdjust="spacingAndGlyphs">−2</text>
<text x="58.91" y="509.90" text-anchor="end" font-size="13.89" textLength="19.18" lengthAdjust="spacingAndGlyphs">−1</text>
<text x="60.31" y="473.73" text-anchor="end" font-size="13.89" textLength="7.79" lengthAdjust="spacingAndGlyphs">0</text>
<text x="60.31" y="437.56" text-anchor="end" font-size="13.89" textLength="7.21" lengthAdjust="spacingAndGlyphs">1</text>
<text x="60.31" y="402.09" text-anchor="end" font-size="13.89" textLength="7.79" lengthAdjust="spacingAndGlyphs">2</text>
<text x="60.31" y="365.93" text-anchor="end" font-size="13.89" textLength="7.79" lengthAdjust="spacingAndGlyphs">3</text>
<text x="60.31" y="329.06" text-anchor="end" font-size="13.89" textLength="7.79" lengthAdjust="spacingAndGlyphs">4</text>
<text x="435.23" y="581.56" font-size="13.89" textLength="85.88" lengthAdjust="spacingAndGlyphs">Day of week</text>
<text transform="translate(30.81,424.76) rotate(-90)" text-anchor="middle" font-size="13.89" textLength="45.77" lengthAdjust="spacingAndGlyphs">weekly</text>
<text x="73.05" y="857.00" font-size="13.89" textLength="65.42" lengthAdjust="spacingAndGlyphs">January 1</text>
<text x="199.81" y="857.00" font-size="13.89" textLength="55.48" lengthAdjust="spacingAndGlyphs">March 1</text>
<text x="330.88" y="857.00" font-size="13.89" textLength="41.56" lengthAdjust="spacingAndGlyphs">May 1</text>
<text x="456.59" y="857.00" font-size="13.89" textLength="37.68" lengthAdjust="spacingAndGlyphs">July 1</text>
<text x="557.93" y="857.00" font-size="13.89" textLength="89.40" lengthAdjust="spacingAndGlyphs">September 1</text>
<text x="685.28" y="857.00" font-size="13.89" textLength="84.34" lengthAdjust="spacingAndGlyphs">November 1</text>
<text x="817.80" y="857.00" font-size="13.89" textLength="65.42" lengthAdjust="spacingAndGlyphs">January 1</text>
<text x="58.91" y="829.76" text-anchor="end" font-size="13.89" textLength="19.18" lengthAdjust="spacingAndGlyphs">−1</text>
<text x="60.31" y="778.76" text-anchor="end" font-size="13.89" textLength="7.79" lengthAdjust="spacingAndGlyphs">0</text>
<text x="60.31" y="727.76" text-anchor="end" font-size="13.89" textLength="7.21" lengthAdjust="spacingAndGlyphs">1</text>
<text x="60.31" y="676.76" text-anchor="end" font-size="13.89" textLength="7.79" lengthAdjust="spacingAndGlyphs">2</text>
<text x="60.31" y="625.76" text-anchor="end" font-size="13.89" textLength="7.79" lengthAdjust="spacingAndGlyphs">3</text>
<text x="437.83" y="876.56" font-size="13.89" textLength="81.37" lengthAdjust="spacingAndGlyphs">Day of year</text>
<text transform="translate(30.81,719.41) rotate(-90)" text-anchor="middle" font-size="13.89" textLength="41.25" lengthAdjust="spacingAndGlyphs">yearly</text>
</svg>
</body></html>
